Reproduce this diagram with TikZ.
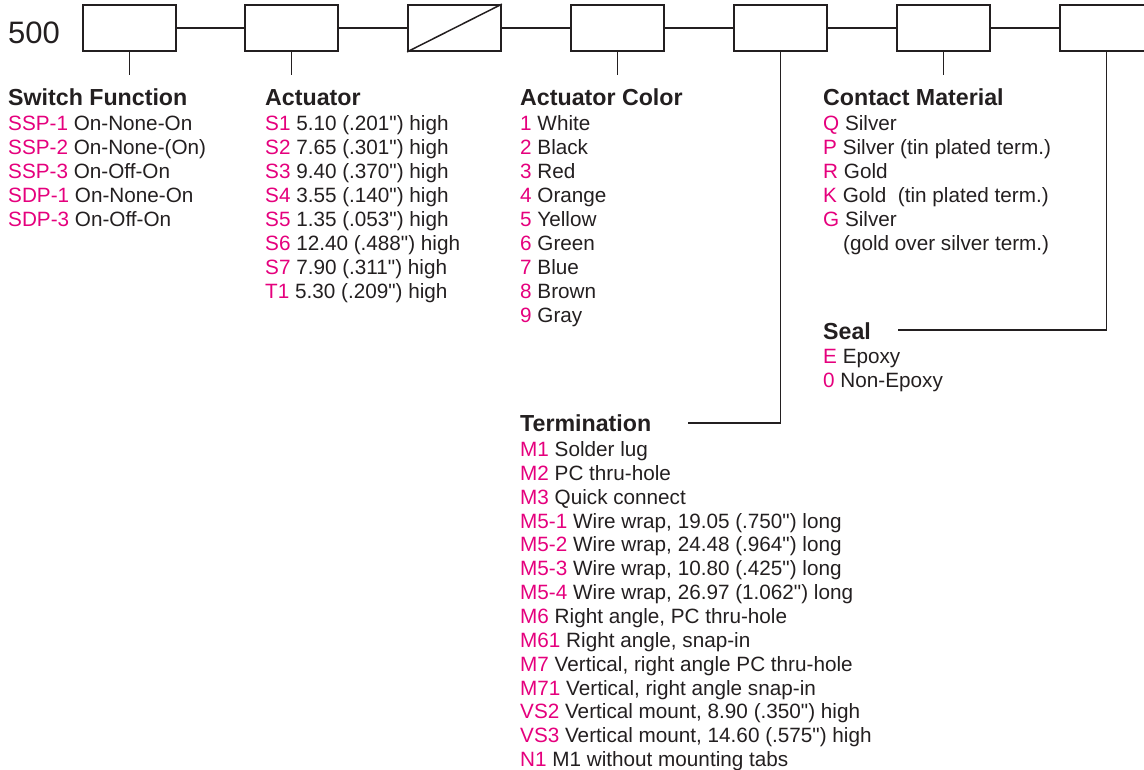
\documentclass[tikz,border=0pt]{standalone}
\usepackage{fontspec}
\setmainfont{Liberation Sans}[Ligatures=TeXOff]
\definecolor{pk}{HTML}{E5007D}
\definecolor{ink}{HTML}{231F20}
\tikzset{
  pbox/.style={draw=ink, line width=1.8pt, minimum width=93pt, minimum height=46pt, inner sep=0pt},
  link/.style={draw=ink, line width=1.8pt},
  head/.style={anchor=base west, inner sep=0pt, font=\fontsize{23.2}{24}\selectfont\bfseries, text=ink},
  item/.style={anchor=base west, inner sep=0pt, font=\fontsize{20.7}{24}\selectfont, text=ink},
}
\newcommand\cd[1]{\textcolor{pk}{#1}}
\newcommand\qq{\symbol{34}}
\begin{document}
\begin{tikzpicture}[x=1pt,y=-1pt]
\useasboundingbox (0,0) rectangle (1144,770);
% prefix
\node[anchor=base west, inner sep=0pt, font=\fontsize{31}{32}\selectfont, text=ink] (pre) at (8,44) {500};
% boxes
\node[pbox] (b1) at (129.5,28) {};
\node[pbox] (b2) at (291.5,28) {};
\node[pbox] (b3) at (454.5,28) {};
\node[pbox] (b4) at (617.5,28) {};
\node[pbox] (b5) at (780.5,28) {};
\node[pbox] (b6) at (943.5,28) {};
\node[pbox] (b7) at (1106.5,28) {};
\draw[link] (b1) -- (b2);
\draw[link] (b2) -- (b3);
\draw[link] (b3) -- (b4);
\draw[link] (b4) -- (b5);
\draw[link] (b5) -- (b6);
\draw[link] (b6) -- (b7);
\draw[link, line width=1.5pt] (b3.south west) -- (b3.north east);
% ticks
\coordinate (t1) at (129.5,75);
\coordinate (t2) at (291.5,75);
\coordinate (t4) at (617.5,75);
\coordinate (t6) at (943.5,75);
\coordinate (tt) at (688,423);
\coordinate (ts) at (898,330);
\draw[link] (b1.south) -- (t1);
\draw[link] (b2.south) -- (t2);
\draw[link] (b4.south) -- (t4);
\draw[link] (b6.south) -- (t6);
\draw[link] (b5.south) |- (tt);
\draw[link] (b7.south) |- (ts);
% Switch Function
\node[head] (hsf) at (8,106) {Switch Function};
\node[item] (sf1) at (8,130.5) {\cd{SSP-1} On-None-On};
\node[item] (sf2) at (8,154.5) {\cd{SSP-2} On-None-(On)};
\node[item] (sf3) at (8,178.5) {\cd{SSP-3} On-Off-On};
\node[item] (sf4) at (8,202.5) {\cd{SDP-1} On-None-On};
\node[item] (sf5) at (8,226.5) {\cd{SDP-3} On-Off-On};
% Actuator
\node[head] (ha) at (265,106) {Actuator};
\node[item] (a1) at (265,130.5) {\cd{S1} 5.10 (.201\qq) high};
\node[item] (a2) at (265,154.5) {\cd{S2} 7.65 (.301\qq) high};
\node[item] (a3) at (265,178.5) {\cd{S3} 9.40 (.370\qq) high};
\node[item] (a4) at (265,202.5) {\cd{S4} 3.55 (.140\qq) high};
\node[item] (a5) at (265,226.5) {\cd{S5} 1.35 (.053\qq) high};
\node[item] (a6) at (265,250.5) {\cd{S6} 12.40 (.488\qq) high};
\node[item] (a7) at (265,274.5) {\cd{S7} 7.90 (.311\qq) high};
\node[item] (a8) at (265,298.5) {\cd{T1} 5.30 (.209\qq) high};
% Actuator Color
\node[head] (hac) at (520,106) {Actuator Color};
\node[item] (c1) at (520,130.5) {\cd{1} White};
\node[item] (c2) at (520,154.5) {\cd{2} Black};
\node[item] (c3) at (520,178.5) {\cd{3} Red};
\node[item] (c4) at (520,202.5) {\cd{4} Orange};
\node[item] (c5) at (520,226.5) {\cd{5} Yellow};
\node[item] (c6) at (520,250.5) {\cd{6} Green};
\node[item] (c7) at (520,274.5) {\cd{7} Blue};
\node[item] (c8) at (520,298.5) {\cd{8} Brown};
\node[item] (c9) at (520,322.5) {\cd{9} Gray};
% Contact Material
\node[head] (hcm) at (823,106) {Contact Material};
\node[item] (m1) at (823,130.5) {\cd{Q} Silver};
\node[item] (m2) at (823,154.5) {\cd{P} Silver (tin plated term.)};
\node[item] (m3) at (823,178.5) {\cd{R} Gold};
\node[item] (m4) at (823,202.5) {\cd{K} Gold\ \ (tin plated term.)};
\node[item] (m5) at (823,226.5) {\cd{G} Silver};
\node[item] (m6) at (843,250.5) {(gold over silver term.)};
% Seal
\node[head] (hse) at (823,339) {Seal};
\node[item] (s1) at (823,363.5) {\cd{E} Epoxy};
\node[item] (s2) at (823,387.5) {\cd{0} Non-Epoxy};
% Termination
\node[head] (ht) at (520,431) {Termination};
\node[item] (r1) at (520,456.5) {\cd{M1} Solder lug};
\node[item] (r2) at (520,480.35) {\cd{M2} PC thru-hole};
\node[item] (r3) at (520,504.2) {\cd{M3} Quick connect};
\node[item] (r4) at (520,528.05) {\cd{M5-1} Wire wrap, 19.05 (.750\qq) long};
\node[item] (r5) at (520,551.9) {\cd{M5-2} Wire wrap, 24.48 (.964\qq) long};
\node[item] (r6) at (520,575.75) {\cd{M5-3} Wire wrap, 10.80 (.425\qq) long};
\node[item] (r7) at (520,599.6) {\cd{M5-4} Wire wrap, 26.97 (1.062\qq) long};
\node[item] (r8) at (520,623.45) {\cd{M6} Right angle, PC thru-hole};
\node[item] (r9) at (520,647.3) {\cd{M61} Right angle, snap-in};
\node[item] (r10) at (520,671.15) {\cd{M7} Vertical, right angle PC thru-hole};
\node[item] (r11) at (520,695) {\cd{M71} Vertical, right angle snap-in};
\node[item] (r12) at (520,718.85) {\cd{VS2} Vertical mount, 8.90 (.350\qq) high};
\node[item] (r13) at (520,742.7) {\cd{VS3} Vertical mount, 14.60 (.575\qq) high};
\node[item] (r14) at (520,766.55) {\cd{N1} M1 without mounting tabs};
\end{tikzpicture}
\end{document}
